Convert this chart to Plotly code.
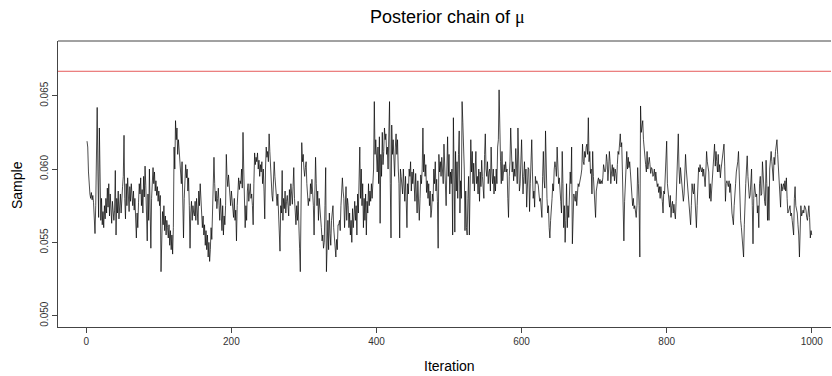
import numpy as np
import plotly.graph_objects as go

# Posterior samples of mu, in units of 1e-4
s001 = [619, 615, 598, 588, 583, 580, 584, 579, 582, 577,
        568, 556, 575, 615, 642, 598, 567, 628, 590, 565,
        580, 562, 571, 560, 575, 566, 580, 570, 587, 574,
        590, 568, 583, 572, 563, 578, 569, 565, 572, 599,
        555, 580, 570, 585, 566, 578, 583, 570, 576, 588,
        595, 623, 580, 566, 590, 575, 594, 580, 571, 588,
        578, 590, 582, 575, 585, 572, 580, 566, 553, 570,
        560, 577, 590, 583, 594, 575, 586, 570, 595, 581,
        602, 589, 575, 551, 583, 565, 600, 575, 546, 580,
        596, 601, 590, 598, 585, 592, 582, 588, 578, 585]
s101 = [575, 582, 530, 560, 571, 562, 575, 558, 568, 555,
        565, 560, 553, 562, 548, 558, 545, 555, 542, 560,
        615, 600, 633, 620, 628, 610, 620, 613, 605, 599,
        590, 605, 575, 553, 580, 598, 603, 594, 600, 585,
        594, 575, 546, 570, 578, 565, 575, 570, 568, 578,
        565, 580, 572, 562, 585, 575, 590, 578, 570, 560,
        568, 555, 562, 548, 558, 545, 555, 540, 550, 537,
        545, 560, 552, 570, 585, 608, 590, 578, 585, 573,
        580, 587, 575, 565, 580, 570, 558, 575, 555, 568,
        562, 575, 610, 595, 588, 596, 590, 582, 575, 585]
s201 = [578, 570, 567, 580, 565, 572, 551, 575, 590, 594,
        586, 592, 590, 600, 587, 625, 600, 578, 560, 575,
        565, 585, 590, 578, 585, 590, 580, 583, 575, 562,
        590, 611, 603, 608, 605, 611, 600, 606, 595, 603,
        598, 605, 590, 600, 585, 566, 600, 615, 608, 612,
        605, 624, 612, 600, 585, 582, 578, 590, 605, 595,
        586, 580, 575, 583, 570, 560, 544, 575, 570, 599,
        565, 580, 573, 585, 570, 578, 582, 575, 568, 586,
        575, 590, 580, 576, 588, 601, 580, 570, 562, 575,
        565, 578, 548, 546, 530, 590, 618, 605, 610, 600]
s301 = [595, 601, 605, 590, 582, 575, 580, 578, 590, 583,
        593, 585, 575, 555, 580, 608, 590, 575, 585, 565,
        580, 575, 568, 560, 551, 555, 546, 550, 575, 601,
        530, 560, 565, 545, 570, 556, 548, 565, 570, 575,
        560, 555, 548, 540, 552, 545, 562, 562, 565, 558,
        575, 585, 594, 585, 580, 560, 570, 588, 565, 580,
        575, 560, 570, 555, 565, 550, 573, 560, 568, 578,
        565, 575, 555, 583, 570, 590, 615, 580, 600, 575,
        590, 560, 580, 565, 583, 555, 578, 570, 590, 575,
        585, 578, 590, 580, 588, 600, 646, 610, 620, 605]
s401 = [598, 615, 590, 622, 563, 610, 595, 625, 603, 612,
        628, 620, 624, 610, 615, 600, 635, 646, 590, 553,
        630, 610, 620, 603, 595, 615, 624, 610, 620, 600,
        590, 553, 600, 595, 590, 583, 600, 592, 578, 595,
        575, 560, 590, 583, 600, 595, 605, 585, 598, 590,
        600, 590, 578, 597, 585, 570, 592, 583, 565, 580,
        596, 590, 600, 628, 598, 610, 595, 603, 584, 592,
        580, 590, 575, 585, 567, 572, 583, 578, 600, 590,
        605, 585, 593, 578, 546, 610, 598, 605, 595, 608,
        600, 590, 617, 598, 585, 575, 600, 622, 595, 610]
s501 = [583, 598, 590, 600, 555, 635, 598, 557, 612, 585,
        605, 580, 610, 626, 570, 592, 580, 646, 632, 612,
        600, 558, 585, 560, 555, 580, 595, 555, 600, 620,
        598, 612, 590, 604, 585, 600, 612, 590, 595, 583,
        600, 578, 598, 588, 606, 595, 590, 580, 610, 624,
        600, 595, 605, 590, 598, 600, 585, 615, 598, 590,
        600, 583, 595, 585, 600, 590, 615, 620, 654, 610,
        605, 590, 612, 592, 600, 603, 598, 605, 598, 600,
        580, 567, 595, 605, 628, 610, 598, 605, 592, 600,
        595, 614, 600, 590, 628, 610, 585, 590, 615, 620]
s601 = [600, 583, 595, 605, 590, 600, 574, 595, 601, 600,
        571, 590, 605, 620, 598, 580, 585, 574, 595, 590,
        592, 590, 589, 583, 578, 580, 570, 567, 595, 612,
        592, 587, 626, 595, 580, 570, 575, 560, 553, 565,
        570, 580, 590, 585, 600, 605, 601, 595, 615, 600,
        590, 594, 580, 578, 570, 612, 590, 560, 575, 550,
        565, 590, 560, 575, 567, 580, 598, 590, 615, 549,
        575, 583, 580, 578, 585, 575, 583, 590, 588, 590,
        592, 596, 600, 617, 605, 603, 612, 608, 615, 617,
        610, 635, 605, 612, 597, 600, 583, 612, 595, 585]
s701 = [575, 567, 585, 590, 592, 594, 590, 593, 590, 592,
        590, 594, 603, 600, 598, 600, 610, 605, 592, 600,
        612, 605, 590, 598, 603, 595, 601, 592, 600, 597,
        590, 603, 612, 610, 620, 624, 615, 618, 598, 578,
        551, 578, 590, 605, 612, 600, 608, 601, 605, 598,
        590, 585, 575, 580, 573, 575, 570, 567, 575, 601,
        590, 575, 540, 643, 625, 630, 633, 620, 612, 605,
        603, 598, 612, 600, 605, 608, 603, 597, 601, 600,
        595, 596, 600, 592, 598, 590, 588, 590, 584, 588,
        580, 588, 584, 578, 570, 585, 583, 595, 605, 619]
s801 = [590, 585, 578, 574, 582, 567, 575, 578, 570, 576,
        570, 566, 578, 590, 612, 624, 600, 590, 601, 594,
        587, 580, 578, 583, 595, 610, 600, 594, 590, 583,
        578, 570, 562, 575, 590, 585, 583, 590, 580, 578,
        560, 575, 590, 601, 598, 603, 600, 598, 601, 595,
        600, 592, 588, 598, 612, 605, 601, 598, 580, 590,
        578, 585, 592, 600, 608, 617, 602, 612, 605, 598,
        610, 598, 603, 594, 600, 605, 610, 615, 617, 602,
        578, 590, 592, 590, 588, 592, 584, 590, 575, 570,
        566, 562, 575, 587, 590, 598, 601, 605, 612, 595]
s901 = [572, 565, 560, 555, 548, 540, 562, 583, 590, 600,
        609, 595, 585, 580, 582, 590, 600, 575, 549, 580,
        590, 585, 581, 583, 570, 575, 560, 590, 595, 582,
        583, 605, 595, 583, 578, 575, 606, 590, 565, 588,
        565, 600, 608, 612, 605, 598, 592, 608, 603, 612,
        615, 620, 610, 600, 590, 582, 574, 590, 585, 588,
        590, 586, 592, 585, 594, 580, 570, 571, 573, 575,
        568, 570, 565, 560, 555, 580, 588, 575, 572, 570,
        562, 555, 540, 555, 575, 568, 570, 572, 570, 575,
        574, 572, 567, 565, 570, 575, 567, 553, 558, 555]

true_mu = 1 / 15
x_ticks = [0, 200, 400, 600, 800, 1000]
y_ticks = [0.050, 0.055, 0.060, 0.065]
y_tick_text = ["0.050", "0.055", "0.060", "0.065"]

samples = np.array(s001 + s101 + s201 + s301 + s401 + s501 + s601 + s701 + s801 + s901) / 10000.0
iterations = np.arange(1, len(samples) + 1)

fig = go.Figure()
fig.add_trace(go.Scatter(x=iterations, y=samples, mode="lines",
                         line=dict(color="black", width=0.7), showlegend=False,
                         hoverinfo="x+y"))

axis_font = dict(family="Liberation Sans, Arial, sans-serif", size=10, color="#333333")
fig.update_layout(
    width=832, height=376,
    margin=dict(l=58, r=1, t=41, b=49),
    paper_bgcolor="white", plot_bgcolor="white",
    xaxis=dict(range=[-39, 1026.5], tickvals=x_ticks, ticks="outside", ticklen=5,
               tickcolor="#444444", showline=True, linecolor="#444444", linewidth=1,
               showgrid=False, zeroline=False, tickfont=axis_font),
    yaxis=dict(range=[0.049229, 0.068731], tickvals=y_ticks, ticktext=y_tick_text,
               ticks="outside", ticklen=5, tickcolor="#444444", tickangle=-90,
               showline=True, linecolor="#444444", linewidth=1,
               showgrid=False, zeroline=False, tickfont=axis_font),
    shapes=[dict(type="line", xref="paper", yref="paper", x0=0, x1=1, y0=1, y1=1,
                 line=dict(color="#444444", width=1)),
            dict(type="line", xref="paper", yref="y", x0=0, x1=1, y0=true_mu, y1=true_mu,
                 line=dict(color="#e65a5a", width=1))],
    annotations=[
        dict(text="Posterior chain of <span style='font-family:Liberation Serif, DejaVu Serif, serif'>μ</span>",
             xref="paper", yref="paper",
             x=0.5039, y=1.084, showarrow=False, xanchor="center", yanchor="middle",
             font=dict(family="Liberation Sans, Arial, sans-serif", size=18, color="black")),
        dict(text="Iteration", xref="paper", yref="paper",
             x=0.506, y=-0.138, showarrow=False, xanchor="center", yanchor="middle",
             font=dict(family="Liberation Sans, Arial, sans-serif", size=14, color="black")),
        dict(text="Sample", xref="paper", yref="paper", textangle=-90,
             x=-0.053, y=0.4965, showarrow=False, xanchor="center", yanchor="middle",
             font=dict(family="Liberation Sans, Arial, sans-serif", size=14, color="black")),
    ],
)

fig.write_html("out.html")
